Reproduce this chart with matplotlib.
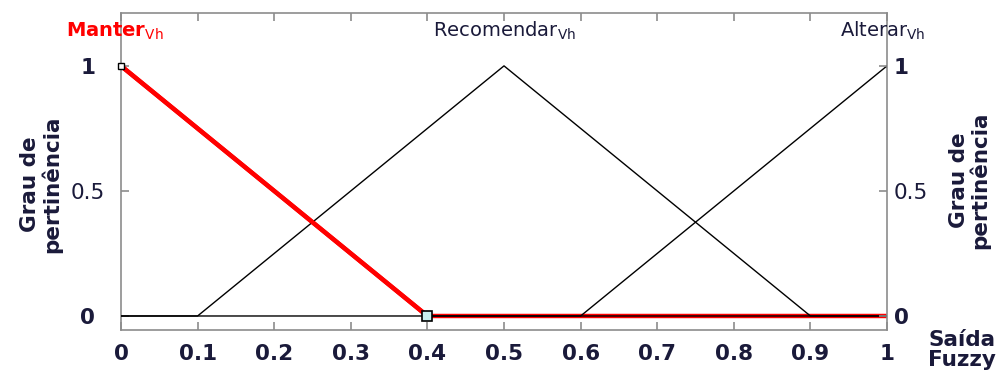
import matplotlib.pyplot as plt

# membership functions of the fuzzy output
manter_x = [0.0, 0.4, 1.0]
manter_y = [1.0, 0.0, 0.0]
recomendar_x = [0.0, 0.1, 0.5, 0.9, 1.0]
recomendar_y = [0.0, 0.0, 1.0, 0.0, 0.0]
alterar_x = [0.0, 0.6, 1.0]
alterar_y = [0.0, 0.0, 1.0]

# highlighted (red) output
active_x = [0.0, 0.4, 1.0]
active_y = [1.0, 0.0, 0.0]
marker_x = [0.0, 0.4]
marker_y = [1.0, 0.0]

x_ticks = [0, 0.1, 0.2, 0.3, 0.4, 0.5, 0.6, 0.7, 0.8, 0.9, 1]
x_labels = ["0", "0.1", "0.2", "0.3", "0.4", "0.5", "0.6", "0.7", "0.8", "0.9", "1"]
y_ticks = [0, 0.5, 1]
y_labels = ["0", "0.5", "1"]

mf_names = ["Manter", "Recomendar", "Alterar"]
mf_peaks = [0.0, 0.5, 1.0]

NAVY = "#1a1a3a"
SPINE = "#8c8c8c"

fig = plt.figure(figsize=(10.04, 3.78), dpi=100)
ax = fig.add_axes([0.1205, 0.127, 0.763, 0.839])

ax.plot(active_x, active_y, color="red", linewidth=3.2, zorder=2)
for xs, ys in [(manter_x, manter_y), (recomendar_x, recomendar_y), (alterar_x, alterar_y)]:
    ax.plot(xs, ys, color="black", linewidth=1.0, zorder=3)
ax.plot(active_x[:2], active_y[:2], color="red", linewidth=3.2, zorder=4)
ax.plot(marker_x[:1], marker_y[:1], "s", ms=5, mfc="white", mec="black", mew=1.0,
        zorder=5, clip_on=False)
ax.plot(marker_x[1:], marker_y[1:], "s", ms=7, mfc="#c8f0f0", mec="black", mew=1.2, zorder=5)

ax.set_xlim(0, 1)
ax.set_ylim(-0.056, 1.212)

for s in ax.spines.values():
    s.set_color(SPINE)
    s.set_linewidth(1.2)

ax.set_xticks(x_ticks)
ax.set_xticklabels(x_labels, fontsize=15.5, fontweight="bold", color=NAVY)
ax.tick_params(axis="x", direction="in", length=6, width=1.2, color=SPINE, top=True, pad=10)

# left labels (centred), right labels on a twin axis
ax.set_yticks(y_ticks)
ax.set_yticklabels(y_labels, fontsize=15.5, fontweight="bold", color=NAVY, ha="center")
ax.tick_params(axis="y", direction="in", length=6, width=1.2, color=SPINE, pad=24)

ax2 = ax.twinx()
ax2.set_ylim(ax.get_ylim())
ax2.set_yticks(y_ticks)
ax2.set_yticklabels(y_labels, fontsize=15.5, fontweight="bold", color=NAVY)
ax2.tick_params(axis="y", direction="in", length=6, width=1.2, color=SPINE, pad=5)
for s in ax2.spines.values():
    s.set_visible(False)

for a in (ax, ax2):
    for lab in a.get_yticklabels():
        if lab.get_text() == "0.5":
            lab.set_fontweight("normal")

label_kw = dict(fontsize=15.5, fontweight="bold", color=NAVY, rotation=90,
                ha="center", va="center", linespacing=1.0)
fig.text(0.041, 0.513, "Grau de\npertinência", **label_kw)
fig.text(0.966, 0.522, "Grau de\npertinência", **label_kw)
fig.text(0.958, 0.075, "Saída\nFuzzy", fontsize=15.5, fontweight="bold", color=NAVY,
         ha="center", va="center", linespacing=1.0)

colors = ["red", NAVY, NAVY]
weights = ["bold", "normal", "normal"]
xpos = [-0.008, 0.5, 0.995]
for name, xp, c, w in zip(mf_names, xpos, colors, weights):
    ax.text(xp, 1.14, name + r"$_{\mathrm{Vh}}$", fontsize=14, color=c,
            fontweight=w, ha="center", va="center")

fig.savefig("out.png", dpi=100)
